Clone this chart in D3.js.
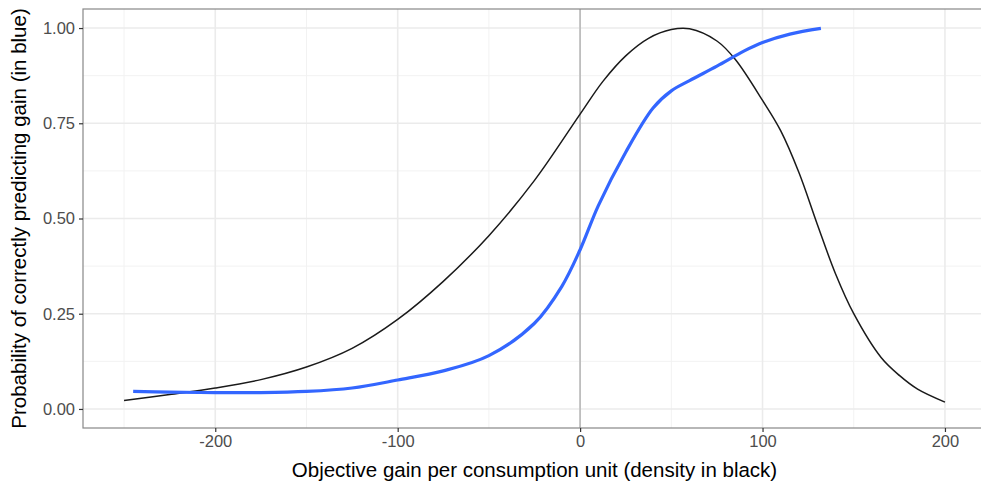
<!DOCTYPE html>
<html>
<head>
<meta charset="utf-8">
<script src="https://cdn.jsdelivr.net/npm/d3@7"></script>
<style>
  body { margin: 0; background: #fff; }
  svg { display: block; font-family: "Liberation Sans", Arial, sans-serif; }
</style>
</head>
<body>
<svg id="chart" width="981" height="487"></svg>
<script>
// density of objective gain (scaled so the peak is 1), drawn in black
var densityX = [-250, -225, -200, -175, -150, -125, -100, -75, -50, -25, 0, 12.5, 25, 37.5, 50, 60, 75, 85, 100, 110, 120, 130, 140, 150, 165, 175, 185, 200];
var densityY = [0.022, 0.038, 0.055, 0.077, 0.11, 0.159, 0.235, 0.335, 0.455, 0.60, 0.774, 0.86, 0.927, 0.973, 0.996, 0.998, 0.966, 0.918, 0.81, 0.73, 0.62, 0.485, 0.355, 0.25, 0.135, 0.088, 0.052, 0.018];

// smoothed probability of predicting gain correctly, drawn in blue
var probX = [-245, -225, -200, -175, -150, -125, -100, -75, -50, -25, -10, 0, 10, 25, 40, 50, 60, 75, 90, 100, 115, 132];
var probY = [0.046, 0.044, 0.043, 0.043, 0.046, 0.055, 0.076, 0.1, 0.14, 0.225, 0.322, 0.418, 0.534, 0.674, 0.79, 0.835, 0.862, 0.9, 0.94, 0.962, 0.984, 0.999];

var xTicks = [-200, -100, 0, 100, 200];
var xMinor = [-250, -150, -50, 50, 150];
var yTicks = [0, 0.25, 0.5, 0.75, 1];
var yMinor = [0.125, 0.375, 0.625, 0.875];

var xTitle = "Objective gain per consumption unit (density in black)";
var yTitle = "Probability of correctly predicting gain (in blue)";

var svg = d3.select("#chart");
// panel edges (the right edge falls just outside the picture)
var pLeft = 83, pRight = 986, pTop = 9, pBottom = 428;

var x = d3.scaleLinear().domain([-272.5, 222.5]).range([pLeft, pRight]);
var y = d3.scaleLinear().domain([-0.05, 1.05]).range([pBottom, pTop]);

// grid
var grid = svg.append("g");
grid.selectAll(".vmin").data(xMinor).enter().append("line")
    .attr("x1", d => x(d)).attr("x2", d => x(d)).attr("y1", pTop).attr("y2", pBottom)
    .attr("stroke", "#f2f2f2").attr("stroke-width", 1);
grid.selectAll(".hmin").data(yMinor).enter().append("line")
    .attr("x1", pLeft).attr("x2", pRight).attr("y1", d => y(d)).attr("y2", d => y(d))
    .attr("stroke", "#f2f2f2").attr("stroke-width", 1);
grid.selectAll(".vmaj").data(xTicks).enter().append("line")
    .attr("x1", d => x(d)).attr("x2", d => x(d)).attr("y1", pTop).attr("y2", pBottom)
    .attr("stroke", "#ebebeb").attr("stroke-width", 1.6);
grid.selectAll(".hmaj").data(yTicks).enter().append("line")
    .attr("x1", pLeft).attr("x2", pRight).attr("y1", d => y(d)).attr("y2", d => y(d))
    .attr("stroke", "#ebebeb").attr("stroke-width", 1.6);

// vertical reference line at zero
svg.append("line")
    .attr("x1", x(0)).attr("x2", x(0)).attr("y1", pTop).attr("y2", pBottom)
    .attr("stroke", "#bebebe").attr("stroke-width", 1.8);

var line = d3.line().curve(d3.curveCatmullRom.alpha(0.5));

svg.append("path")
    .attr("d", line(densityX.map((d, i) => [x(d), y(densityY[i])])))
    .attr("fill", "none").attr("stroke", "#1a1a1a").attr("stroke-width", 1.5);

svg.append("path")
    .attr("d", line(probX.map((d, i) => [x(d), y(probY[i])])))
    .attr("fill", "none").attr("stroke", "#3366ff").attr("stroke-width", 3.2);

// panel border
svg.append("rect")
    .attr("x", pLeft).attr("y", pTop).attr("width", pRight - pLeft).attr("height", pBottom - pTop)
    .attr("fill", "none").attr("stroke", "#888").attr("stroke-width", 1.2);

// axes
var xAxis = svg.append("g").attr("transform", "translate(0," + pBottom + ")")
    .call(d3.axisBottom(x).tickValues(xTicks).tickFormat(d => String(d)).tickSizeOuter(0).tickSize(4).tickPadding(3));
var yAxis = svg.append("g").attr("transform", "translate(" + pLeft + ",0)")
    .call(d3.axisLeft(y).tickValues(yTicks).tickFormat(d => d.toFixed(2)).tickSizeOuter(0).tickSize(4).tickPadding(4));
[xAxis, yAxis].forEach(function(a) {
    a.select(".domain").remove();
    a.selectAll(".tick line").attr("stroke", "#333").attr("stroke-width", 1.2);
    a.selectAll(".tick text").attr("fill", "#4d4d4d").style("font-size", "16.5px")
        .style("font-family", "'Liberation Sans', Arial, sans-serif");
});

svg.append("text")
    .attr("x", (pLeft + pRight) / 2).attr("y", 477)
    .attr("text-anchor", "middle").style("font-size", "20.5px")
    .text(xTitle);

svg.append("text")
    .attr("transform", "translate(26," + (pTop + pBottom) / 2 + ") rotate(-90)")
    .attr("text-anchor", "middle").style("font-size", "20.5px")
    .text(yTitle);
</script>
</body>
</html>
